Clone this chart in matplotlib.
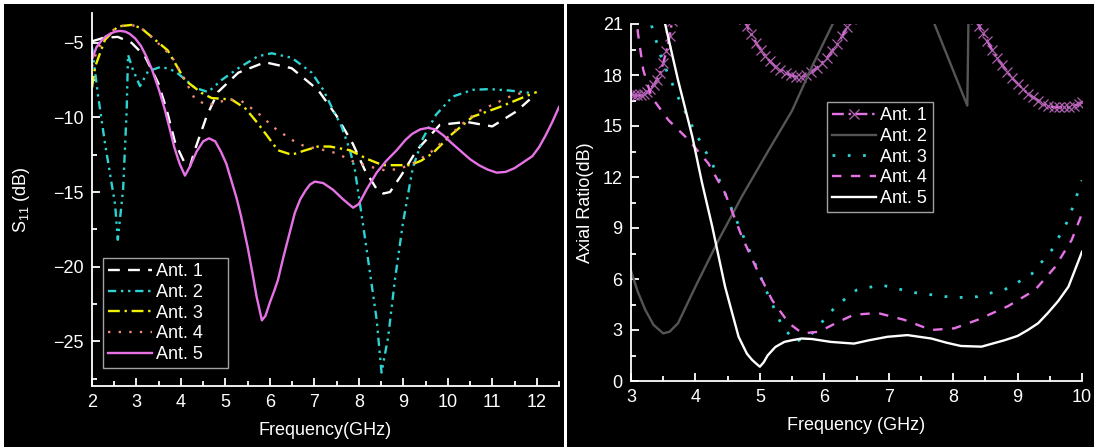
import numpy as np
import matplotlib
matplotlib.use('Agg')
import matplotlib.pyplot as plt
from matplotlib.patches import Rectangle
from matplotlib.ticker import MultipleLocator

nan = np.nan

# left panel: S11 (dB) vs frequency (GHz)
s11_ant1_f = [2.0, 2.25, 2.58, 2.89, 3.19, 3.49, 3.68, 3.87, 4.09, 4.2, 4.31, 4.58, 4.83,
              5.29, 5.89, 6.49, 7.08, 7.5, 7.87, 8.13, 8.4, 8.55, 8.7, 8.96, 9.3, 9.82,
              10.42, 11.0, 11.54, 11.84]
s11_ant1 = [-4.9, -4.67, -4.6, -5.0, -5.9, -7.7, -9.5, -11.7, -13.1, -13.3, -12.2, -9.9, -8.3,
            -7.0, -6.3, -6.7, -8.15, -9.9, -11.8, -13.5, -14.8, -15.1, -15.0, -13.85, -12.2, -10.5,
            -10.3, -10.6, -9.6, -8.8]

s11_ant2_f = [2.0, 2.13, 2.29, 2.52, 2.58, 2.7, 2.78, 2.81, 2.92, 3.08, 3.26, 3.46, 3.56, 3.87,
              4.31, 4.61, 4.91, 5.29, 5.73, 6.04, 6.49, 6.94, 7.2, 7.42, 7.61, 7.8, 7.91, 8.09,
              8.25, 8.4, 8.51, 8.66, 8.81, 8.99, 9.15, 9.22, 9.44, 9.74, 10.11, 10.56, 10.94,
              11.4, 11.84]
s11_ant2 = [-5.3, -8.4, -11.7, -15.85, -18.2, -14.8, -9.5, -5.8, -6.8, -7.9, -6.9, -6.7, -6.6, -6.9,
            -8.0, -8.3, -7.5, -6.7, -5.9, -5.7, -6.0, -7.0, -8.15, -9.5, -10.6, -12.2, -13.5, -17.1,
            -20.4, -23.55, -27.1, -24.7, -20.9, -17.1, -14.4, -13.3, -11.4, -9.8, -8.6, -8.15, -8.1,
            -8.2, -8.35]

s11_ant3_f = [2.0, 2.07, 2.29, 2.58, 2.89, 3.1, 3.34, 3.7, 4.09, 4.46, 4.69, 5.14, 5.45, 5.73,
              6.18, 6.49, 6.8, 7.08, 7.35, 7.8, 8.2, 8.54, 9.15, 9.4, 9.66, 10.1, 10.56, 11.17,
              11.9, 12.0]
s11_ant3 = [-8.0, -6.6, -4.8, -3.9, -3.8, -4.0, -4.6, -5.5, -7.5, -8.35, -8.7, -8.8, -9.4, -10.4,
            -12.2, -12.5, -12.2, -11.95, -11.95, -12.2, -12.8, -13.2, -13.2, -12.9, -12.4, -11.1,
            -9.95, -9.3, -8.4, -8.3]

s11_ant4_f = [2.0, 2.1, 2.3, 2.58, 2.89, 3.1, 3.34, 3.79, 4.09, 4.31, 4.6, 5.06, 5.36, 5.73, 6.1,
              6.49, 6.79, 7.1, 7.5, 7.87, 8.25, 8.59, 8.92, 9.3, 9.63, 9.97, 10.34, 10.68,
              11.0, 11.4, 11.77]
s11_ant4 = [-6.6, -5.6, -4.6, -3.9, -3.8, -4.0, -4.6, -5.9, -7.5, -8.75, -9.2, -8.8, -8.9, -9.7,
            -10.7, -11.5, -11.95, -12.1, -12.4, -12.95, -13.3, -13.55, -13.45, -12.95, -12.3,
            -11.4, -10.4, -9.6, -9.15, -8.6, -8.25]

s11_ant5_f = [2.0, 2.1, 2.2, 2.3, 2.4, 2.52, 2.63, 2.75, 2.85, 2.97, 3.1, 3.22, 3.35, 3.5, 3.64,
              3.75, 3.85, 3.97, 4.09, 4.2, 4.35, 4.5, 4.63, 4.77, 4.9, 5.02, 5.13, 5.25, 5.35, 5.5,
              5.6, 5.7, 5.82, 5.9, 6.0, 6.1, 6.18, 6.3, 6.43, 6.56, 6.68, 6.8, 6.9, 7.01, 7.2,
              7.42, 7.65, 7.87, 8.0, 8.17, 8.4, 8.62, 8.85, 9.05, 9.2, 9.38, 9.55, 9.72, 9.9,
              10.08, 10.27, 10.5, 10.7, 10.9, 11.1, 11.3, 11.5, 11.7, 11.9, 12.05, 12.2, 12.35,
              12.5]
s11_ant5 = [-6.1, -5.3, -4.9, -4.6, -4.4, -4.25, -4.2, -4.25, -4.4, -4.7, -5.2, -5.9, -6.8, -8.1,
            -9.5, -10.8, -12.0, -13.1, -13.9, -13.3, -12.3, -11.6, -11.4, -11.6, -12.3, -13.1,
            -14.2, -15.4, -16.6, -18.7, -20.3, -22.0, -23.6, -23.3, -22.4, -21.6, -20.9, -19.4,
            -17.9, -16.4, -15.5, -14.9, -14.5, -14.3, -14.4, -14.85, -15.5, -16.05, -15.8, -14.85,
            -13.7, -12.9, -12.2, -11.5, -11.1, -10.8, -10.7, -10.8, -11.2, -11.7, -12.2, -12.8,
            -13.2, -13.5, -13.7, -13.65, -13.4, -13.0, -12.6, -12.0, -11.2, -10.3, -9.3]

# right panel: axial ratio (dB) vs frequency (GHz)
ar_ant1_f = [3.0, 3.05, 3.1, 3.15, 3.2, 3.25, 3.3, 3.35, 3.4, 3.45, 3.5, 3.55, 3.6, 3.64, nan,
             4.75, 4.8, 4.87, 4.94, 5.01, 5.08, 5.16, 5.24, 5.32, 5.4, 5.48, 5.56, 5.64, 5.72,
             5.8, 5.88, 5.96, 6.04, 6.12, 6.2, 6.28, 6.35, 6.42, nan,
             8.35, 8.4, 8.46, 8.53, 8.6, 8.68, 8.76, 8.84, 8.92, 9.0, 9.08, 9.16, 9.24, 9.32,
             9.4, 9.48, 9.56, 9.64, 9.72, 9.8, 9.88, 9.96, 10.0]
ar_ant1 = [16.9, 16.8, 16.8, 16.8, 16.9, 17.0, 17.2, 17.4, 17.7, 18.1, 18.7, 19.4, 20.3, 21.2, nan,
           21.3, 20.9, 20.4, 19.9, 19.5, 19.1, 18.8, 18.5, 18.3, 18.1, 18.0, 17.9, 17.9, 18.0,
           18.2, 18.4, 18.7, 19.0, 19.4, 19.8, 20.3, 20.8, 21.3, nan,
           21.3, 20.9, 20.5, 20.0, 19.5, 19.0, 18.6, 18.2, 17.8, 17.5, 17.2, 16.9, 16.7, 16.5,
           16.3, 16.2, 16.1, 16.1, 16.1, 16.1, 16.2, 16.3, 16.4]

ar_ant2_f = [3.0, 3.1, 3.22, 3.35, 3.5, 3.6, 3.73, 4.0, 4.36, 4.72, 5.14, 5.5, 5.81, 6.13, 6.2,
             nan, 7.65, 7.71, 8.22, 8.24]
ar_ant2 = [6.5, 5.3, 4.2, 3.3, 2.8, 2.9, 3.4, 5.55, 8.3, 10.85, 13.6, 15.9, 18.5, 21.0, 21.8,
           nan, 21.6, 21.0, 16.2, 22.0]

ar_ant3_f = [3.28, 3.32, 3.48, 3.73, 4.0, 4.26, 4.57, 4.88, 5.14, 5.35, 5.56, 5.81, 6.18, 6.5,
             6.88, 7.4, 8.02, 8.38, 8.85, 9.22, 9.53, 9.79, 10.0]
ar_ant3 = [21.8, 20.9, 18.9, 16.7, 14.6, 12.8, 10.05, 7.3, 4.96, 3.2, 2.3, 2.8, 4.4, 5.35,
           5.65, 5.2, 4.9, 4.96, 5.45, 6.3, 7.7, 9.5, 11.8]

ar_ant4_f = [3.07, 3.11, 3.19, 3.32, 3.58, 3.89, 4.2, 4.46, 4.72, 4.98, 5.19, 5.45, 5.66, 5.92,
             6.23, 6.46, 6.83, 7.24, 7.66, 8.02, 8.38, 8.85, 9.27, 9.58, 9.84, 10.0]
ar_ant4 = [21.8, 20.4, 18.3, 16.7, 15.35, 14.2, 12.8, 11.05, 8.5, 6.35, 4.76, 3.4, 2.8, 2.9,
           3.5, 3.9, 4.0, 3.6, 3.0, 3.1, 3.6, 4.4, 5.35, 6.7, 8.3, 9.85]

ar_ant5_f = [3.5, 3.53, 3.73, 3.95, 4.1, 4.26, 4.46, 4.67, 4.8, 4.88, 4.95, 5.0, 5.06, 5.12,
             5.24, 5.38, 5.5, 5.65, 5.81, 6.1, 6.46, 6.7, 6.98, 7.29, 7.66, 7.9, 8.12, 8.44,
             8.8, 9.0, 9.16, 9.32, 9.47, 9.63, 9.79, 10.0]
ar_ant5 = [22.0, 21.0, 17.7, 14.4, 11.7, 9.1, 5.55, 2.6, 1.6, 1.24, 1.0, 0.84, 1.1, 1.5,
           2.0, 2.3, 2.4, 2.5, 2.47, 2.3, 2.2, 2.4, 2.6, 2.7, 2.5, 2.25, 2.06, 2.02,
           2.4, 2.65, 3.0, 3.4, 4.0, 4.7, 5.55, 7.6]

CYAN, VIOLET = '#2dd2d2', '#e672e6'


def style_axes(ax, xmaj, ymaj):
    ax.set_facecolor('black')
    for side in ('top', 'right'):
        ax.spines[side].set_visible(False)
    for side in ('left', 'bottom'):
        ax.spines[side].set_color('white')
        ax.spines[side].set_linewidth(1.3)
    ax.xaxis.set_major_locator(MultipleLocator(xmaj))
    ax.xaxis.set_minor_locator(MultipleLocator(xmaj / 2))
    ax.yaxis.set_major_locator(MultipleLocator(ymaj))
    ax.yaxis.set_minor_locator(MultipleLocator(ymaj / 2))
    ax.tick_params(which='both', direction='in', colors='white', labelsize=13,
                   top=False, right=False, width=1.3)
    ax.tick_params(which='major', length=6, pad=6)
    ax.tick_params(which='minor', length=3.5)


def add_legend(ax, fig, box, expand=False):
    x0, y0, w, h = box
    leg = ax.legend(loc='upper left',
                    bbox_to_anchor=(x0 / 1094, 1 - (y0 + h) / 447, w / 1094, h / 447),
                    bbox_transform=fig.transFigure, borderaxespad=0, fontsize=13,
                    mode='expand' if expand else None,
                    fancybox=False, framealpha=1, facecolor='black', edgecolor='#a0a0a0',
                    handlelength=2.4, handletextpad=0.25, labelspacing=0.2, borderpad=0.3)
    leg.get_frame().set_linewidth(1.0)
    for t in leg.get_texts():
        t.set_color('white')


if __name__ == '__main__':
    plt.rcParams['font.family'] = ['Liberation Sans', 'DejaVu Sans']
    plt.rcParams['mathtext.default'] = 'regular'

    fig = plt.figure(figsize=(10.94, 4.47), dpi=100, facecolor='white')
    fig.patches.append(Rectangle((4 / 1094, 0), 560 / 1094, 443 / 447,
                                 transform=fig.transFigure, facecolor='black', zorder=-10))
    fig.patches.append(Rectangle((567 / 1094, 0), 527 / 1094, 443 / 447,
                                 transform=fig.transFigure, facecolor='black', zorder=-10))

    lw = 1.7

    # S11 panel
    ax1 = fig.add_axes([92 / 1094, 61 / 447, 467 / 1094, 373 / 447])
    ax1.plot(s11_ant1_f, s11_ant1, color='white', lw=lw, ls=(0, (5, 3.5)), label='Ant. 1')
    ax1.plot(s11_ant2_f, s11_ant2, color=CYAN, lw=lw, ls=(0, (3.5, 2, 1, 2, 1, 2)), label='Ant. 2')
    ax1.plot(s11_ant3_f, s11_ant3, color='#f0f000', lw=lw, ls=(0, (5, 2, 1, 2)), label='Ant. 3')
    ax1.plot(s11_ant4_f, s11_ant4, color='#f08878', lw=lw, ls=(0, (1, 3.5)), label='Ant. 4')
    ax1.plot(s11_ant5_f, s11_ant5, color=VIOLET, lw=lw, label='Ant. 5')
    ax1.set_xlim(2, 12.5)
    ax1.set_ylim(-28, -3)
    style_axes(ax1, 1, 5)
    ax1.set_xlabel('Frequency(GHz)', color='white', fontsize=13, labelpad=8)
    ax1.set_ylabel('S$_{11}$ (dB)', color='white', fontsize=13, labelpad=15)
    add_legend(ax1, fig, (103, 258, 125, 112), expand=True)

    # axial ratio panel
    ax2 = fig.add_axes([631 / 1094, 66 / 447, 451 / 1094, 357 / 447])
    ax2.plot(ar_ant1_f, ar_ant1, color=VIOLET, lw=lw, ls=(0, (5, 2, 1, 2)),
             marker='x', ms=7, mec='#b060b0', mew=0.9, label='Ant. 1')
    ax2.plot(ar_ant2_f, ar_ant2, color='#555555', lw=lw, label='Ant. 2')
    ax2.plot(ar_ant3_f, ar_ant3, color=CYAN, lw=lw + 0.3, ls=(0, (1, 4.5)), label='Ant. 3')
    ax2.plot(ar_ant4_f, ar_ant4, color=VIOLET, lw=lw, ls=(0, (4, 4)), label='Ant. 4')
    ax2.plot(ar_ant5_f, ar_ant5, color='white', lw=lw, label='Ant. 5')
    ax2.set_xlim(3, 10)
    ax2.set_ylim(0, 21)
    style_axes(ax2, 1, 3)
    ax2.set_xlabel('Frequency (GHz)', color='white', fontsize=13, labelpad=8)
    ax2.set_ylabel('Axial Ratio(dB)', color='white', fontsize=13, labelpad=6)
    add_legend(ax2, fig, (827, 102, 106, 110))

    fig.savefig('out.png', dpi=100, facecolor='white')
